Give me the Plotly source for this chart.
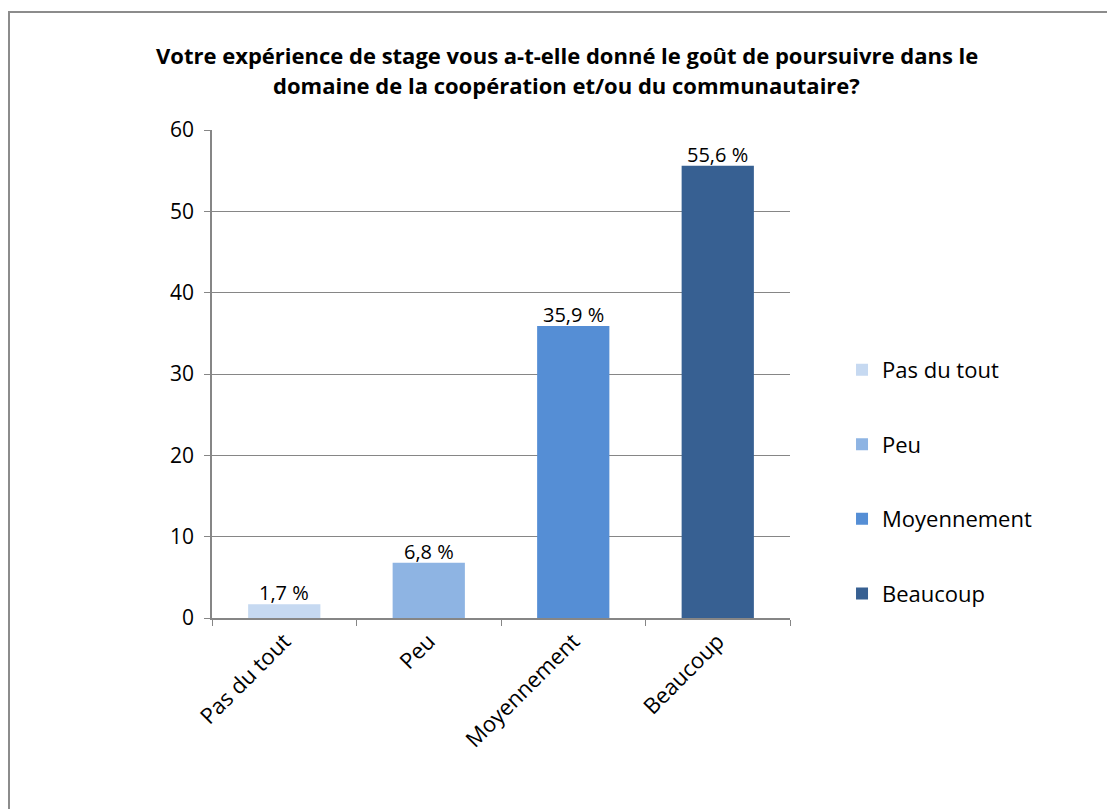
import plotly.graph_objects as go

categories = ["Pas du tout", "Peu", "Moyennement", "Beaucoup"]
values = [1.7, 6.8, 35.9, 55.6]
colors = ["#C6D9F1", "#8EB4E3", "#558ED5", "#376092"]
title_lines = [
    "Votre expérience de stage vous a-t-elle donné le goût de poursuivre dans le",
    "domaine de la coopération et/ou du communautaire?",
]

FONT = "Open Sans, Noto Sans, sans-serif"
GRID = "#868686"

fig = go.Figure()

# one trace per category so that the legend lists each one
for i, (cat, val) in enumerate(zip(categories, values)):
    fig.add_trace(go.Bar(
        x=[cat],
        y=[val],
        name=cat,
        legendgroup=cat,
        marker=dict(color=colors[i], line=dict(width=0)),
        width=0.5,
        hoverinfo="skip",
    ))
    # value label sitting right on top of the bar
    fig.add_annotation(
        x=cat, y=val,
        text=("%.1f %%" % val).replace(".", ","),
        xref="x", yref="y",
        xanchor="center", yanchor="bottom",
        yshift=-4,
        showarrow=False,
        font=dict(size=20, color="black", family=FONT),
    )

# title as two annotations (line spacing like the original)
for line, ypos in zip(title_lines, [1.1537, 1.0922]):
    fig.add_annotation(
        text="<b>" + line + "</b>",
        xref="paper", yref="paper",
        x=0.614, y=ypos,
        xanchor="center", yanchor="middle",
        showarrow=False,
        font=dict(size=22, color="black", family=FONT),
    )

# chart border (left and top edges visible, rest off-canvas)
fig.add_shape(
    type="rect", xref="paper", yref="paper",
    x0=-0.3512, x1=1.58, y0=-0.41, y1=1.2418,
    line=dict(color="#8c8c8c", width=2),
    layer="below",
)

# page body has an 8px margin, margins below account for it
fig.update_layout(
    width=1107,
    height=801,
    margin=dict(l=204, r=325, t=122, b=191),
    paper_bgcolor="white",
    plot_bgcolor="white",
    barmode="overlay",
    font=dict(family=FONT, size=20, color="black"),
    showlegend=True,
    legend=dict(
        x=1.09, xanchor="left",
        y=0.279, yanchor="middle",
        tracegroupgap=43,
        font=dict(size=22, family=FONT),
        itemwidth=30,
        bgcolor="rgba(0,0,0,0)",
    ),
    xaxis=dict(
        categoryorder="array",
        categoryarray=categories,
        showline=True,
        linecolor=GRID,
        linewidth=1.5,
        ticks="outside",
        tickson="boundaries",
        ticklen=6,
        tickcolor=GRID,
        tickangle=-45,
        tickfont=dict(size=22),
        showgrid=False,
    ),
    yaxis=dict(
        range=[0, 60],
        dtick=10,
        showline=True,
        linecolor=GRID,
        linewidth=1.5,
        ticks="outside",
        ticklen=6,
        tickcolor=GRID,
        showgrid=True,
        gridcolor=GRID,
        gridwidth=1,
        zeroline=False,
        tickfont=dict(size=21),
        ticklabelstandoff=6,
    ),
)

fig.write_html("out.html")
